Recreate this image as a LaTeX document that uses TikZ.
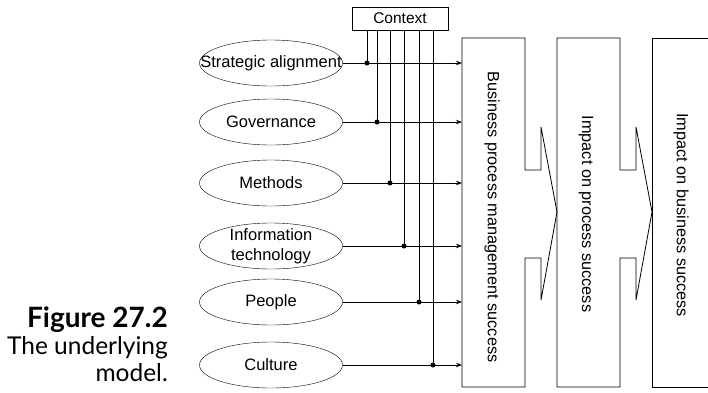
\documentclass[tikz,border=0pt]{standalone}
\usepackage{fontspec}
\setmainfont{Liberation Sans}
\newfontfamily\capfont{Lato}
\usetikzlibrary{arrows.meta, shapes.geometric}

\begin{document}
\begin{tikzpicture}[
    x=1pt, y=-1pt,
    factor/.style={draw, ellipse, minimum width=143pt, minimum height=46pt,
                   inner xsep=-25pt, inner ysep=-10pt, align=center,
                   font=\fontsize{16.5}{17}\selectfont},
    ctxbox/.style={draw, rectangle, minimum width=96pt, minimum height=23pt,
                   inner sep=0pt, font=\fontsize{15.5}{15.5}\selectfont},
    vlbl/.style={rotate=-90, inner sep=0pt, font=\fontsize{16.3}{16.3}\selectfont},
    link/.style={draw, line width=0.8pt},
    feed/.style={draw, line width=1pt},
    dot/.style={fill, circle, inner sep=0pt, minimum size=5pt},
    outline/.style={draw, line width=0.8pt, line join=miter},
    >={Stealth[length=6pt, width=4.5pt]}
]
\useasboundingbox (0,0) rectangle (708,392);

%% Context box on top
\node[ctxbox] (ctx) at (400,18.5) {Context};

%% Factors on the left
\node[factor] (sa)   at (271,63)  {Strategic alignment};
\node[factor] (gov)  at (271,122) {Governance};
\node[factor] (meth) at (271,183) {Methods};
\node[factor] (it)   at (271,246) {Information\\[3pt]technology};
\node[factor] (ppl)  at (271,302) {People};
\node[factor] (cult) at (271,365) {Culture};

%% Success stages (outlines drawn below)
\node[vlbl] (bpm) at (492,217) {Business process management success};
\node[vlbl] (ips) at (586,214) {Impact on process success};
\node[vlbl] (ibs) at (681,215) {Impact on business success};
\coordinate (bpmin) at (462,38);

\path[outline] (462,38) -- (525,38) -- (525,170) -- (541,170) -- (541,127)
    -- (557,212) -- (541,300) -- (541,258) -- (525,258) -- (525,387)
    -- (462,387) -- cycle;
\path[outline] (557,38) -- (620,38) -- (620,170) -- (636,170) -- (636,127)
    -- (652,212) -- (636,300) -- (636,258) -- (620,258) -- (620,387)
    -- (557,387) -- cycle;
\path[outline] (708,38) -- (652,38) -- (652,387) -- (708,387);

%% Junctions where context meets each factor
\coordinate (jsa)   at (367,63);
\coordinate (jgov)  at (377,122);
\coordinate (jmeth) at (390,183);
\coordinate (jit)   at (404,246);
\coordinate (jppl)  at (419,302);
\coordinate (jcult) at (433,365);

%% Arrows: factors into the first stage
\draw[->, link] (sa.east)   -- (sa.east -| bpmin);
\draw[->, link] (gov.east)  -- (gov.east -| bpmin);
\draw[->, link] (meth.east) -- (meth.east -| bpmin);
\draw[->, link] (it.east)   -- (it.east -| bpmin);
\draw[->, link] (ppl.east)  -- (ppl.east -| bpmin);
\draw[->, link] (cult.east) -- (cult.east -| bpmin);

%% Lines down from the context
\path[feed] (jsa |- ctx.south)   -- (jsa);
\path[feed] (jgov |- ctx.south)  -- (jgov);
\path[feed] (jmeth |- ctx.south) -- (jmeth);
\path[feed] (jit |- ctx.south)   -- (jit);
\path[feed] (jppl |- ctx.south)  -- (jppl);
\path[feed] (jcult |- ctx.south) -- (jcult);
\node[dot] (dsa)   at (jsa) {};
\node[dot] (dgov)  at (jgov) {};
\node[dot] (dmeth) at (jmeth) {};
\node[dot] (dit)   at (jit) {};
\node[dot] (dppl)  at (jppl) {};
\node[dot] (dcult) at (jcult) {};

%% Caption
\node[anchor=north east, align=right, inner sep=0pt,
      font=\capfont\fontsize{24.5}{27}\selectfont] (cap) at (168,307)
    {{\fontsize{28}{27}\selectfont\textbf{Figure 27.2}}\\The underlying\\model.};
\end{tikzpicture}
\end{document}
